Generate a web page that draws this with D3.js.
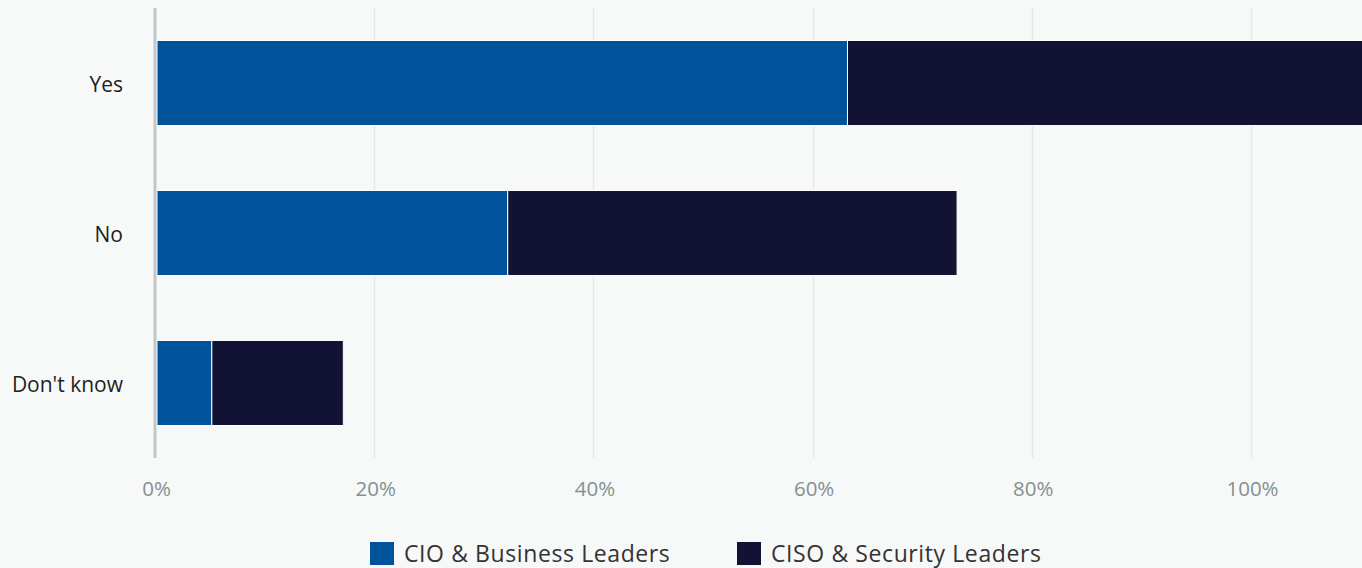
<!DOCTYPE html>
<html>
<head>
<meta charset="utf-8">
<script src="https://cdn.jsdelivr.net/npm/d3@7"></script>
<style>
  html, body { margin: 0; padding: 0; background: #f7f8f8; overflow: hidden; }
  svg { display: block; font-family: "Open Sans", Lato, sans-serif; }
</style>
</head>
<body>
<svg id="chart" width="1362" height="568"></svg>
<script>
// Survey answers, share of respondents per group (%)
const categories = ["Yes", "No", "Don't know"];
const seriesNames = ["CIO & Business Leaders", "CISO & Security Leaders"];
const cioValues = [63, 32, 5];
const cisoValues = [47, 41, 12];
const tickValues = [0, 20, 40, 60, 80, 100];
const colors = ["#00529b", "#121334"];

const W = 1362, H = 568;
const margin = { left: 157, top: 8, bottom: 110 };
const svg = d3.select("#chart");

const rows = categories.map((c, i) => ({ category: c, cio: cioValues[i], ciso: cisoValues[i] }));
const stack = d3.stack().keys(["cio", "ciso"])(rows);

const x = d3.scaleLinear().domain([0, 100]).range([margin.left, 1253]);
const y = d3.scaleBand().domain(categories)
  .range([margin.top, H - margin.bottom])
  .paddingInner(0.433).paddingOuter(0.2167);

// vertical gridlines
svg.append("g").selectAll("line").data(tickValues.slice(1)).join("line")
  .attr("x1", d => Math.round(x(d)) - 1.5).attr("x2", d => Math.round(x(d)) - 1.5)
  .attr("y1", margin.top).attr("y2", H - margin.bottom)
  .attr("stroke", "#e6e9eb").attr("stroke-width", 1.5);

// stacked bars
svg.append("g").selectAll("g").data(stack).join("g")
  .attr("fill", (d, i) => colors[i])
  .selectAll("rect").data(d => d).join("rect")
  .attr("x", d => x(d[0]))
  .attr("y", d => y(d.data.category))
  .attr("width", d => x(d[1]) - x(d[0]))
  .attr("height", y.bandwidth())
  .attr("stroke", "#ffffff").attr("stroke-width", 1);

// baseline
svg.append("line")
  .attr("x1", x(0) - 2).attr("x2", x(0) - 2)
  .attr("y1", margin.top).attr("y2", H - margin.bottom)
  .attr("stroke", "#c2c6ca").attr("stroke-width", 3);

// x axis labels
const xAxis = d3.axisBottom(x).tickValues(tickValues).tickSize(0).tickPadding(0)
  .tickFormat(d => d + "%");
const gx = svg.append("g").attr("transform", `translate(-1,${H - margin.bottom + 23})`).call(xAxis);
gx.select(".domain").remove();
gx.selectAll("text").attr("fill", "#849190").attr("font-size", 20.5).attr("font-family", "Open Sans, sans-serif");

// category labels
const yAxis = d3.axisLeft(y).tickSize(0).tickPadding(34);
const gy = svg.append("g").attr("transform", `translate(${margin.left},2)`).call(yAxis);
gy.select(".domain").remove();
gy.selectAll("text").attr("fill", "#1e1e1e").attr("font-size", 21).attr("font-family", "Open Sans, sans-serif");

// legend
const legendX = [370, 737];
const lg = svg.append("g").selectAll("g").data(seriesNames).join("g")
  .attr("transform", (d, i) => `translate(${legendX[i]},542)`);
lg.append("rect").attr("width", 24).attr("height", 23).attr("fill", (d, i) => colors[i]);
lg.append("text").attr("x", 34).attr("y", 20)
  .attr("font-size", 23).attr("letter-spacing", 0.6).attr("fill", "#333").text(d => d);
</script>
</body>
</html>
